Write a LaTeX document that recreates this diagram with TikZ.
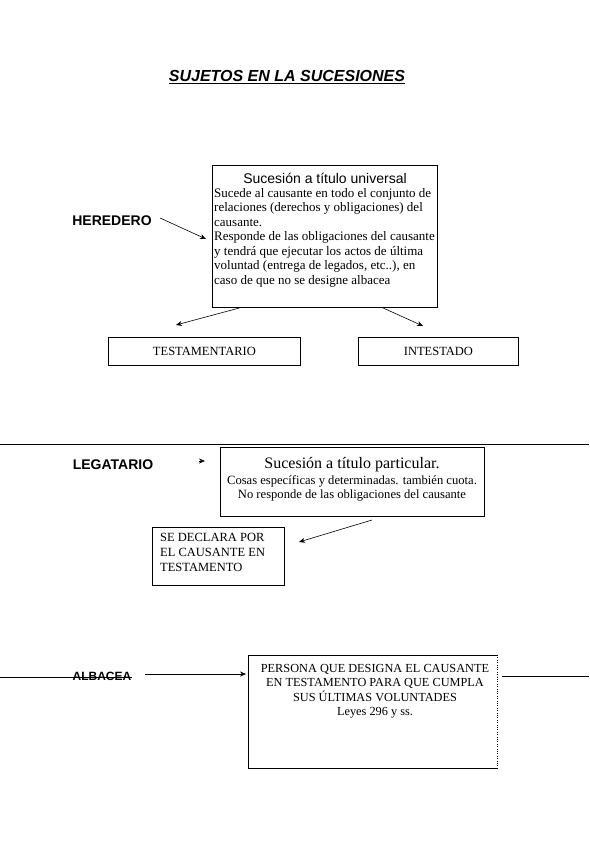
\documentclass[tikz,border=0pt]{standalone}
\usepackage{fontspec}
\setmainfont{Liberation Serif}
\setsansfont{Liberation Sans}
\usetikzlibrary{arrows.meta,calc,positioning}

\begin{document}
\begin{tikzpicture}[x=1pt,y=-1pt,
    box/.style={draw,line width=0.8pt,inner sep=0pt,anchor=north west},
    sujeto/.style={font=\sffamily\bfseries\fontsize{14}{16}\selectfont,inner sep=0pt},
    arr/.style={-{Stealth[length=6pt,width=5pt]},line width=0.6pt}]
    \useasboundingbox (0,0) rectangle (589,848);
    % titulo
    \node[inner sep=0pt,font=\sffamily\bfseries\itshape\fontsize{16}{19}\selectfont] (titulo) at (287,77) {\underline{SUJETOS EN LA SUCESIONES}};

    % heredero
    \node[box,minimum width=225pt,minimum height=142pt] (universal) at (212,165) {};
    \node[inner sep=0pt,font=\sffamily\fontsize{14}{16}\selectfont] (universal_tit) at (325,178) {Sucesión a título universal};
    \node[inner sep=0pt,anchor=north west,align=left,font=\fontsize{13}{14.5}\selectfont] (universal_txt) at (214,188) {Sucede al causante en todo el conjunto de\\relaciones (derechos y obligaciones) del\\causante.\\Responde de las obligaciones del causante\\y tendrá que ejecutar los actos de última\\voluntad (entrega de legados, etc..), en\\caso de que no se designe albacea};
    \node[sujeto] (heredero) at (112,221) {HEREDERO};
    \coordinate (heredero_ini) at (160,218);
    \coordinate (heredero_fin) at (206,239);
    \draw[arr] (heredero_ini) -- (heredero_fin);

    \node[box,minimum width=192pt,minimum height=28pt,font=\fontsize{12.5}{14}\selectfont] (testamentario) at (108,337) {TESTAMENTARIO};
    \node[box,minimum width=160pt,minimum height=28pt,font=\fontsize{12.5}{14}\selectfont] (intestado) at (358,337) {INTESTADO};
    \coordinate (testamentario_fin) at (176,325);
    \coordinate (intestado_fin) at (423,326);
    \draw[arr] ($(universal.south west)!0.124!(universal.south east)$) -- (testamentario_fin);
    \draw[arr] ($(universal.south west)!0.756!(universal.south east)$) -- (intestado_fin);

    \draw[line width=0.8pt] (0,444) -- (589,444);

    % legatario
    \node[sujeto] (legatario) at (113,465) {LEGATARIO};
    \coordinate (legatario_ini) at (199,461);
    \coordinate (legatario_fin) at (205,461);
    \draw[arr] (legatario_ini) -- (legatario_fin);
    \node[box,line width=1.1pt,minimum width=264pt,minimum height=69pt] (particular) at (220,447) {};
    \node[inner sep=0pt,font=\fontsize{16}{18}\selectfont] (particular_tit) at (352,465) {Sucesión a título particular.};
    \node[inner sep=0pt,anchor=north,align=center,font=\fontsize{12.6}{14.5}\selectfont] (particular_txt) at (352,475) {Cosas específicas y determinadas. también cuota.\\No responde de las obligaciones del causante};
    \node[box,minimum width=132pt,minimum height=58pt] (declara) at (152,527) {};
    \node[inner sep=0pt,anchor=north west,align=left,font=\fontsize{12.5}{15}\selectfont] (declara_txt) at (160,533) {SE DECLARA POR\\EL CAUSANTE EN\\TESTAMENTO};
    \coordinate (particular_ini) at (372,520);
    \coordinate (declara_fin) at (299,542);
    \draw[arr] (particular_ini) -- (declara_fin);

    % albacea
    \node[sujeto,font=\sffamily\bfseries\fontsize{12}{14}\selectfont] (albacea) at (102,676) {ALBACEA};
    \draw[line width=0.8pt] (0,677) -- (albacea.east |- 0,677);
    \coordinate (albacea_ini) at (145,674);
    \coordinate (albacea_fin) at (246,674);
    \draw[arr] (albacea_ini) -- (albacea_fin);
    \node[inner sep=0pt,anchor=north west,minimum width=249pt,minimum height=113pt] (persona) at (248,655) {};
    \draw[line width=0.8pt] (persona.south east) -- (persona.south west) -- (persona.north west) -- (persona.north east);
    \draw[dotted] (persona.north east) -- (persona.south east);
    \draw[line width=0.8pt] (persona.east |- 0,676) ++(5,0) -- (589,676);
    \node[inner sep=0pt,anchor=north,align=center,font=\fontsize{12.3}{14.5}\selectfont] (persona_txt) at (375,664) {PERSONA QUE DESIGNA EL CAUSANTE\\EN TESTAMENTO PARA QUE CUMPLA\\SUS ÚLTIMAS VOLUNTADES\\Leyes 296 y ss.};
\end{tikzpicture}
\end{document}
